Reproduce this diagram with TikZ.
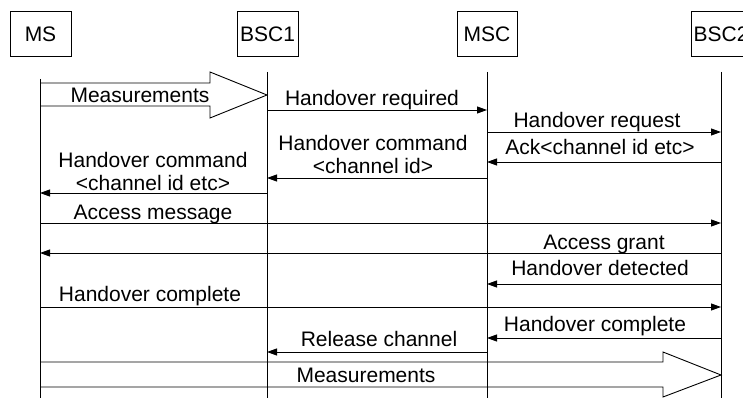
\documentclass[tikz,border=0pt]{standalone}
\usepackage{fontspec}
\setmainfont{Liberation Sans}
\usetikzlibrary{arrows.meta}
\tikzset{
  actortext/.style={inner sep=0pt, font=\fontsize{21}{22}\selectfont},
  barfill/.style={fill=black, draw=none},
  life/.style={draw=black, line width=0.9pt},
  msg/.style={draw=black, line width=0.9pt, -{Triangle[length=10pt,width=7pt]}},
  fat/.style={draw=black, line width=0.9pt},
  lbl/.style={anchor=base, inner sep=0pt, font=\fontsize{21}{22}\selectfont},
  lbl2/.style={anchor=base, inner sep=0pt, align=center, font=\fontsize{21}{22.5}\selectfont}
}
\begin{document}
\begin{tikzpicture}[x=1pt,y=-1pt]
\useasboundingbox (0,0) rectangle (743,398);
% actor boxes as thin filled bars
\foreach \l/\r in {10/71, 237/298, 457/517, 691/751}{
  \fill[barfill] (\l-0.5,11.5) -- (\r+0.5,11.5) -- (\r+0.5,12.5) -- (\l-0.5,12.5) -- cycle;
  \fill[barfill] (\l-0.5,56.5) -- (\r+0.5,56.5) -- (\r+0.5,57.5) -- (\l-0.5,57.5) -- cycle;
  \fill[barfill] (\l-0.5,11.5) -- (\l+0.5,11.5) -- (\l+0.5,57.5) -- (\l-0.5,57.5) -- cycle;
  \fill[barfill] (\r-0.5,11.5) -- (\r+0.5,11.5) -- (\r+0.5,57.5) -- (\r-0.5,57.5) -- cycle;
}
% actors
\node[actortext] (ms) at (40.5,34.5) {MS};
\node[actortext] (bsc1) at (267.5,34.5) {BSC1};
\node[actortext] (msc) at (487,34.5) {MSC};
\node[actortext] (bsc2) at (721,34.5) {BSC2};
% lifelines
\coordinate (msT) at (40,79);
\coordinate (msE) at (40,398);
\coordinate (b1T) at (267,72);
\coordinate (b1E) at (267,398);
\coordinate (mscT) at (487,72);
\coordinate (mscE) at (487,398);
\coordinate (b2T) at (721,72);
\coordinate (b2E) at (721,398);
\draw[life] (msT) -- (msE);
\draw[life] (b1T) -- (b1E);
\draw[life] (mscT) -- (mscE);
\draw[life] (b2T) -- (b2E);
% fat arrow 1
\draw[fat] (msT |- 0,83) -- (210,83) -- (210,72) -- (b1T |- 0,95) -- (210,118) -- (210,106) -- (msT |- 0,106);
\node[lbl] (m1) at (140,103) {Measurements};
% Handover required
\draw[msg] (b1T |- 0,110) -- (mscT |- 0,110);
\node[lbl] (l1) at (372,106) {Handover required};
% Handover request
\draw[msg] (mscT |- 0,132) -- (b2T |- 0,132);
\node[lbl] (l2) at (597,128) {Handover request};
% Ack
\draw[msg] (b2T |- 0,162) -- (mscT |- 0,162);
\node[lbl] (l3) at (600,155) {Ack<channel id etc>};
% Handover command MSC->BSC1
\draw[msg] (mscT |- 0,178) -- (b1T |- 0,178);
\node[lbl2] (l4) at (373,173) {Handover command\\<channel id>};
% Handover command BSC1->MS
\draw[msg] (b1T |- 0,193) -- (msT |- 0,193);
\node[lbl2] (l5) at (153,190) {Handover command\\<channel id etc>};
% Access message
\draw[msg] (msT |- 0,223) -- (b2T |- 0,223);
\node[lbl] (l6) at (153,219) {Access message};
% Access grant
\draw[msg] (b2T |- 0,253) -- (msT |- 0,253);
\node[lbl] (l7) at (604,249) {Access grant};
% Handover detected
\draw[msg] (b2T |- 0,284) -- (mscT |- 0,284);
\node[lbl] (l8) at (600,275) {Handover detected};
% Handover complete MS->BSC2
\draw[msg] (msT |- 0,307) -- (b2T |- 0,307);
\node[lbl] (l9) at (150,301) {Handover complete};
% Handover complete BSC2->MSC
\draw[msg] (b2T |- 0,338) -- (mscT |- 0,338);
\node[lbl] (l10) at (595,331) {Handover complete};
% Release channel
\draw[msg] (mscT |- 0,352) -- (b1T |- 0,352);
\node[lbl] (l11) at (379,346) {Release channel};
% fat arrow 2
\draw[fat] (msT |- 0,362) -- (663,362) -- (663,352) -- (b2T |- 0,375) -- (663,397) -- (663,387) -- (msT |- 0,387);
\node[lbl] (m2) at (366,382) {Measurements};
\end{tikzpicture}
\end{document}
